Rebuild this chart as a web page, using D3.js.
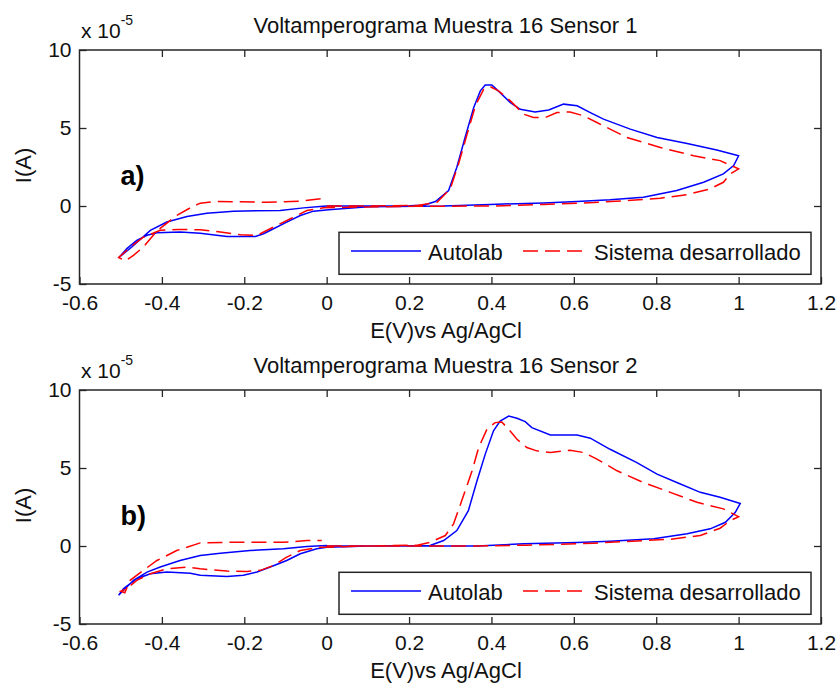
<!DOCTYPE html>
<html>
<head>
<meta charset="utf-8">
<script src="https://cdn.jsdelivr.net/npm/d3@7"></script>
<style>
  body { margin: 0; background: #fff; }
  svg { display: block; font-family: "Liberation Sans", Arial, Helvetica, sans-serif; }
</style>
</head>
<body>
<div id="chart"></div>
<script>
// Valores: [E (V), I (x 1e-5 A)]
const titulos = ['Voltamperograma Muestra 16 Sensor 1', 'Voltamperograma Muestra 16 Sensor 2'];
const etiquetas = ['a)', 'b)'];
const series = ['Autolab', 'Sistema desarrollado'];
const xTicks = [-0.6, -0.4, -0.2, 0, 0.2, 0.4, 0.6, 0.8, 1, 1.2];
const yTicks = [-5, 0, 5, 10];

const s1Autolab = [
    [0.0, 0.0], [0.1, 0.0], [0.2, 0.02], [0.235, 0.05], [0.264, 0.29], [0.296, 0.99], [0.316, 2.48],
    [0.336, 4.39], [0.357, 6.31], [0.373, 7.38], [0.385, 7.76], [0.401, 7.76], [0.421, 7.27],
    [0.446, 6.63], [0.470, 6.2], [0.506, 6.03], [0.539, 6.16], [0.575, 6.53], [0.608, 6.42],
    [0.640, 5.99], [0.672, 5.57], [0.737, 4.93], [0.802, 4.39], [0.875, 4.01], [0.947, 3.59], [1.0, 3.22],
    [0.988, 2.59], [0.963, 2.06], [0.915, 1.52], [0.85, 0.99], [0.769, 0.56], [0.688, 0.4], [0.608, 0.29],
    [0.526, 0.2], [0.397, 0.1], [0.284, 0.0], [0.1, -0.05], [0.005, -0.24], [-0.032, -0.33],
    [-0.064, -0.61], [-0.097, -1.03], [-0.129, -1.46], [-0.153, -1.78], [-0.173, -1.95], [-0.242, -1.95],
    [-0.307, -1.74], [-0.356, -1.67], [-0.412, -1.71], [-0.436, -1.88], [-0.461, -2.2], [-0.485, -2.73],
    [-0.503, -3.27], [-0.505, -3.31], [-0.473, -2.63], [-0.428, -1.56], [-0.388, -1.03], [-0.339, -0.67],
    [-0.291, -0.46], [-0.226, -0.33], [-0.113, -0.29], [-0.056, -0.12], [-0.016, -0.03], [0.0, 0.0]
];
const s1Sistema = [
    [0.0, 0.0], [0.1, 0.0], [0.22, 0.03], [0.268, 0.24], [0.3, 1.1], [0.32, 2.69], [0.341, 4.61],
    [0.361, 6.42], [0.381, 7.48], [0.397, 7.65], [0.417, 7.38], [0.446, 6.74], [0.478, 5.89],
    [0.502, 5.67], [0.531, 5.67], [0.559, 5.99], [0.591, 6.03], [0.624, 5.78], [0.656, 5.35],
    [0.688, 4.93], [0.729, 4.39], [0.81, 3.75], [0.891, 3.22], [0.955, 2.91], [1.0, 2.38],
    [0.98, 2.06], [0.963, 1.52], [0.931, 1.1], [0.875, 0.73], [0.81, 0.5], [0.729, 0.35], [0.648, 0.22],
    [0.526, 0.1], [0.405, 0.0], [0.2, -0.02], [0.05, -0.08], [-0.008, -0.12], [-0.048, -0.29],
    [-0.088, -0.82], [-0.129, -1.35], [-0.169, -1.88], [-0.209, -1.84], [-0.258, -1.67], [-0.307, -1.52],
    [-0.36, -1.5], [-0.404, -1.56], [-0.445, -2.0], [-0.47, -2.5], [-0.505, -3.3], [-0.489, -3.52],
    [-0.469, -3.16], [-0.445, -2.63], [-0.412, -1.6], [-0.364, -0.6], [-0.33, -0.1], [-0.307, 0.18],
    [-0.266, 0.29], [-0.145, 0.24], [-0.064, 0.31], [-0.012, 0.48]
];
const s2Autolab = [
    [0.0, 0.0], [0.1, 0.0], [0.251, 0.03], [0.284, 0.35], [0.316, 0.99], [0.344, 2.27], [0.365, 4.18],
    [0.385, 5.89], [0.405, 7.38], [0.421, 8.01], [0.442, 8.33], [0.462, 8.19], [0.482, 7.97],
    [0.498, 7.59], [0.543, 7.12], [0.608, 7.12], [0.64, 6.91], [0.688, 6.2], [0.753, 5.35],
    [0.802, 4.61], [0.85, 4.07], [0.907, 3.44], [0.955, 3.12], [1.004, 2.73],
    [0.992, 2.16], [0.968, 1.52], [0.931, 1.1], [0.875, 0.78], [0.794, 0.46], [0.688, 0.31],
    [0.608, 0.22], [0.478, 0.14], [0.365, 0.0], [0.1, 0.0], [0.0, -0.08], [-0.024, -0.18],
    [-0.064, -0.5], [-0.097, -0.93], [-0.137, -1.35], [-0.169, -1.67], [-0.202, -1.88], [-0.242, -1.95],
    [-0.307, -1.88], [-0.331, -1.74], [-0.388, -1.67], [-0.428, -1.78], [-0.461, -2.1], [-0.493, -2.73],
    [-0.505, -3.16], [-0.469, -2.2], [-0.436, -1.67], [-0.404, -1.35], [-0.356, -0.93], [-0.307, -0.61],
    [-0.258, -0.46], [-0.186, -0.29], [-0.105, -0.18], [-0.048, -0.03], [0.001, 0.03]
];
const s2Sistema = [
    [0.0, 0.0], [0.1, 0.0], [0.22, 0.05], [0.251, 0.24], [0.288, 0.67], [0.308, 1.42], [0.328, 2.91],
    [0.353, 4.82], [0.369, 6.31], [0.389, 7.48], [0.409, 7.91], [0.425, 7.95], [0.442, 7.48],
    [0.462, 6.84], [0.486, 6.31], [0.51, 6.1], [0.543, 5.99], [0.591, 6.14], [0.624, 5.99],
    [0.656, 5.57], [0.705, 4.82], [0.769, 4.07], [0.834, 3.44], [0.899, 2.8], [0.963, 2.38], [1.0, 1.88],
    [0.98, 1.63], [0.955, 1.14], [0.907, 0.67], [0.834, 0.43], [0.729, 0.29], [0.648, 0.18],
    [0.486, 0.05], [0.365, 0.0], [0.1, 0.0], [-0.016, -0.08], [-0.064, -0.29], [-0.097, -0.71],
    [-0.129, -1.25], [-0.161, -1.56], [-0.194, -1.63], [-0.242, -1.61], [-0.307, -1.46], [-0.339, -1.35],
    [-0.388, -1.46], [-0.428, -1.78], [-0.461, -2.2], [-0.485, -2.73], [-0.5, -2.9], [-0.49, -3.0],
    [-0.477, -2.2], [-0.445, -1.56], [-0.412, -0.93], [-0.364, -0.29], [-0.307, 0.2], [-0.226, 0.24],
    [-0.105, 0.24], [-0.048, 0.35], [-0.012, 0.35]
];

const paneles = [[s1Autolab, s1Sistema], [s2Autolab, s2Sistema]];
const colores = ['#0000ff', '#ff0000'];

let width = 838;
let height = 685;
let plotLeft = 79.5, plotRight = 821, plotHeight = 234;
let panelTops = [50, 390];
let textColor = '#111';

let svg = d3.select('#chart').append('svg')
    .attr('width', width)
    .attr('height', height);

svg.append('rect').attr('width', width).attr('height', height).attr('fill', '#fff');

let x = d3.scaleLinear().domain([-0.6, 1.2]).range([plotLeft, plotRight]);
let y = d3.scaleLinear().domain([-5, 10]).range([plotHeight, 0]);

let fmt = function(d) { return String(+d.toFixed(1)); };

let line = d3.line()
    .x(d => x(d[0]))
    .y(d => y(d[1]));

paneles.forEach(function(datos, i) {
    let g = svg.append('g').attr('transform', `translate(0,${panelTops[i]})`);

    //Ejes
    let ejeX = g.append('g').attr('transform', `translate(0,${plotHeight})`)
        .call(d3.axisBottom(x).tickValues(xTicks).tickFormat(fmt).tickSizeInner(-7).tickSizeOuter(0).tickPadding(11));
    g.append('g')
        .call(d3.axisTop(x).tickValues(xTicks.slice(1, -1)).tickFormat('').tickSizeInner(-7).tickSizeOuter(0));
    let ejeY = g.append('g').attr('transform', `translate(${plotLeft},0)`)
        .call(d3.axisLeft(y).tickValues(yTicks).tickFormat(fmt).tickSizeInner(-7).tickSizeOuter(0).tickPadding(8));
    g.append('g').attr('transform', `translate(${plotRight},0)`)
        .call(d3.axisRight(y).tickValues(yTicks.slice(1, -1)).tickFormat('').tickSizeInner(-7).tickSizeOuter(0));

    g.selectAll('.domain').remove();
    g.selectAll('.tick line').attr('stroke', '#262626').attr('stroke-width', 1.3);
    g.selectAll('.tick text').attr('fill', textColor).style('font-size', '21px');

    g.append('rect')
        .attr('x', plotLeft).attr('y', 0)
        .attr('width', plotRight - plotLeft).attr('height', plotHeight)
        .attr('fill', 'none').attr('stroke', '#262626').attr('stroke-width', 1.5);

    //Curvas
    g.append('path').datum(datos[0])
        .attr('d', line).attr('fill', 'none')
        .attr('stroke', colores[0]).attr('stroke-width', 1.5);
    g.append('path').datum(datos[1])
        .attr('d', line).attr('fill', 'none')
        .attr('stroke', colores[1]).attr('stroke-width', 1.5)
        .attr('stroke-dasharray', '15,7');

    //Textos
    g.append('text')
        .attr('x', 445.5).attr('y', -17.5)
        .attr('text-anchor', 'middle')
        .attr('fill', textColor).style('font-size', '22px')
        .text(titulos[i]);

    let exp = g.append('text')
        .attr('x', 81).attr('y', -12)
        .attr('fill', textColor).style('font-size', '21px');
    exp.append('tspan').text('x 10');
    exp.append('tspan').attr('dy', -13).style('font-size', '14px').text('-5');

    g.append('text')
        .attr('transform', `translate(31,115.5) rotate(-90)`)
        .attr('text-anchor', 'middle')
        .attr('fill', textColor).style('font-size', '22px')
        .text('I(A)');

    g.append('text')
        .attr('x', 446).attr('y', 288)
        .attr('text-anchor', 'middle')
        .attr('fill', textColor).style('font-size', '22px')
        .text('E(V)vs Ag/AgCl');

    g.append('text')
        .attr('x', 120.5).attr('y', 135)
        .attr('fill', '#000').style('font-size', '27px').style('font-weight', 'bold')
        .text(etiquetas[i]);

    //Leyenda
    let leyenda = g.append('g');
    leyenda.append('rect')
        .attr('x', 339).attr('y', 182.3)
        .attr('width', 472).attr('height', 42)
        .attr('fill', '#fff').attr('stroke', '#262626').attr('stroke-width', 1.5);
    leyenda.append('line')
        .attr('x1', 351).attr('x2', 421).attr('y1', 201).attr('y2', 201)
        .attr('stroke', colores[0]).attr('stroke-width', 1.5);
    leyenda.append('text')
        .attr('x', 428).attr('y', 210)
        .attr('fill', textColor).style('font-size', '22px')
        .text(series[0]);
    leyenda.append('line')
        .attr('x1', 523).attr('x2', 587).attr('y1', 201).attr('y2', 201)
        .attr('stroke', colores[1]).attr('stroke-width', 1.5)
        .attr('stroke-dasharray', '15,7');
    leyenda.append('text')
        .attr('x', 594).attr('y', 210)
        .attr('fill', textColor).style('font-size', '22px')
        .text(series[1]);
});
</script>
</body>
</html>
